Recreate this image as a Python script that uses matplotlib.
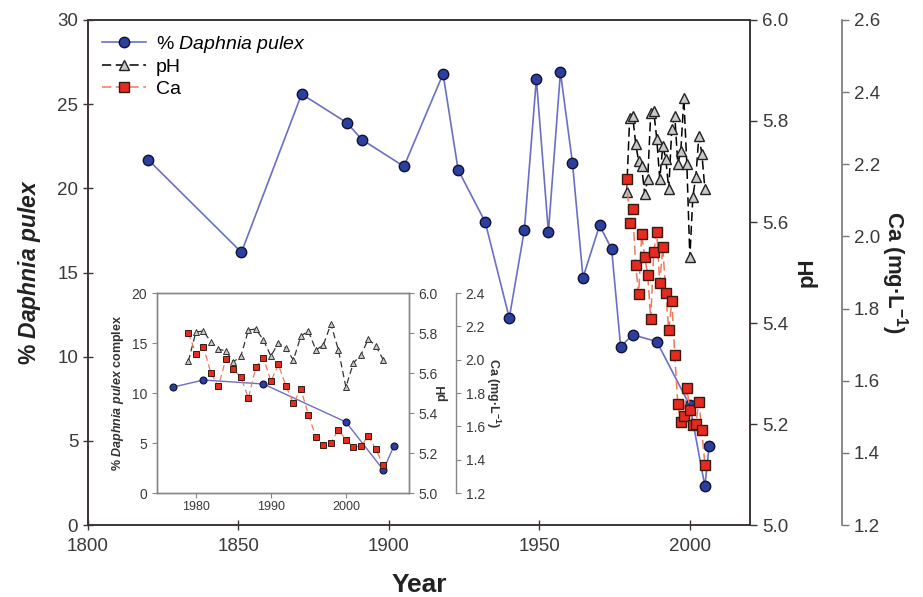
import matplotlib
matplotlib.use("Agg")
import matplotlib.pyplot as plt
from matplotlib.ticker import FormatStrFormatter

plt.rcParams.update({
    "font.family": ["Liberation Sans", "DejaVu Sans"],
    "mathtext.fontset": "custom",
    "mathtext.rm": "Liberation Sans",
    "mathtext.it": "Liberation Sans:italic",
    "mathtext.bf": "Liberation Sans:bold",
    "mathtext.bfit": "Liberation Sans:italic:bold",
})

# ---- % Daphnia pulex (sediment core, whole record) ----
daph_year = [1820, 1851, 1871, 1886, 1891, 1905, 1918, 1923, 1932, 1940, 1945,
             1949, 1953, 1957, 1961, 1964.5, 1970, 1974, 1977, 1981, 1989,
             2000, 2005, 2006.4]
daph_pct = [21.7, 16.2, 25.6, 23.9, 22.9, 21.3, 26.8, 21.1, 18.0, 12.3, 17.5,
            26.5, 17.4, 26.9, 21.5, 14.7, 17.8, 16.4, 10.6, 11.3, 10.9,
            7.1, 2.3, 4.7]

# ---- lake water chemistry (monitoring years) ----
chem_year = list(range(1979, 2006))
ph = [5.66, 5.805, 5.81, 5.755, 5.72, 5.71, 5.655, 5.685, 5.815, 5.82, 5.765,
      5.685, 5.75, 5.725, 5.665, 5.785, 5.81, 5.715, 5.74, 5.845, 5.715,
      5.53, 5.65, 5.69, 5.77, 5.735, 5.665]
ca = [2.16, 2.036, 2.076, 1.92, 1.84, 2.006, 1.942, 1.894, 1.77, 1.956, 2.012,
      1.87, 1.972, 1.842, 1.74, 1.822, 1.67, 1.536, 1.486, 1.502, 1.58,
      1.52, 1.476, 1.48, 1.542, 1.462, 1.366]

# inset only shows the monitoring period
ins_year = [y for y in daph_year if y >= 1975]
ins_pct = [v for y, v in zip(daph_year, daph_pct) if y >= 1975]

BLUE_LN, BLUE_MK = "#6b6fc4", "#2b3f9e"
RED_LN, RED_MK = "#f07a5c", "#e52a1f"
GREY_MK = "#c8c8c8"
SPINE = "#3d3535"
INS_SPINE = "#8a8585"
TXT = "#3a3a3a"

fig = plt.figure(figsize=(9.23, 5.97), dpi=100)
ax = fig.add_axes([0.0953, 0.1206, 0.7173, 0.8459])
axph = ax.twinx()
axca = ax.twinx()
axca.spines["right"].set_position(("outward", 66))

l1, = ax.plot(daph_year, daph_pct, "-o", color=BLUE_LN, lw=1.2, ms=7.5,
              mfc=BLUE_MK, mec="#111133", mew=1.0)
l2, = axph.plot(chem_year, ph, "--^", color="black", lw=1.1, ms=7.5,
                mfc=GREY_MK, mec="#222222", mew=1.0, dashes=(6, 3))
l3, = axca.plot(chem_year, ca, "--s", color=RED_LN, lw=1.1, ms=6.5,
                mfc=RED_MK, mec="#3a1a10", mew=1.0, dashes=(6, 3))

ax.set_xlim(1800, 2020)
ax.set_ylim(0, 30)
axph.set_ylim(5.0, 6.0)
axca.set_ylim(1.2, 2.6)
ax.set_xticks([1800, 1850, 1900, 1950, 2000])
ax.set_yticks(range(0, 31, 5))
axph.set_yticks([5.0, 5.2, 5.4, 5.6, 5.8, 6.0])
axca.set_yticks([1.2, 1.4, 1.6, 1.8, 2.0, 2.2, 2.4, 2.6])
axph.yaxis.set_major_formatter(FormatStrFormatter("%.1f"))
axca.yaxis.set_major_formatter(FormatStrFormatter("%.1f"))

for a in (ax, axph, axca):
    for sp in a.spines.values():
        sp.set_color(SPINE)
        sp.set_linewidth(1.2)
ax.tick_params(axis="both", direction="inout", length=7, width=1,
               color=SPINE, labelcolor=TXT, labelsize=13.5)
ax.tick_params(axis="x", pad=6)
axph.tick_params(axis="y", direction="out", length=5, width=1,
                 color=SPINE, labelcolor=TXT, labelsize=13.5)
axca.tick_params(axis="y", direction="out", length=5, width=1,
                 color="#777777", labelcolor=TXT, labelsize=13.5)
axca.spines["right"].set_color("#777777")
for sp in ("top", "left", "bottom"):
    axca.spines[sp].set_visible(False)

ax.set_xlabel("Year", fontsize=19, fontweight="bold", color="#222222", labelpad=13)
ax.set_ylabel(r"% $\mathbfit{Daphnia\ pulex}$", fontsize=16.5, fontweight="bold",
              color="#222222", labelpad=10)
axph.set_ylabel("pH", fontsize=16, fontweight="bold", color="#222222", labelpad=6)
axca.set_ylabel(r"Ca (mg·L$^{\mathbf{-1}}$)", fontsize=16, fontweight="bold",
                color="#222222", rotation=270, labelpad=22)

ax.legend([l1, l2, l3], [r"% $\mathit{Daphnia\ pulex}$", "pH", "Ca"],
          loc="upper left", frameon=False, fontsize=14, handlelength=2.3,
          handletextpad=0.5, labelspacing=0.2, borderaxespad=0.3,
          borderpad=0.4)

# ----- inset: monitoring period close-up -----
ins = fig.add_axes([0.170, 0.1742, 0.273, 0.335])
ins.set_facecolor("white")
insph = ins.twinx()
insca = ins.twinx()
insca.spines["right"].set_position(("axes", 1.187))

ins.plot(ins_year, ins_pct, "-o", color=BLUE_LN, lw=1.0, ms=5,
         mfc=BLUE_MK, mec="#111133", mew=0.8)
insph.plot(chem_year, ph, "--^", color="#333333", lw=0.9, ms=5,
           mfc=GREY_MK, mec="#333333", mew=0.7, dashes=(5, 3))
insca.plot(chem_year, ca, "--s", color=RED_LN, lw=0.9, ms=4.5,
           mfc=RED_MK, mec="#3a1a10", mew=0.7, dashes=(5, 3))

ins.set_xlim(1974.8, 2008.4)
ins.set_ylim(0, 20)
insph.set_ylim(5.0, 6.0)
insca.set_ylim(1.2, 2.4)
ins.set_xticks([1980, 1990, 2000])
ins.set_yticks([0, 5, 10, 15, 20])
insph.set_yticks([5.0, 5.2, 5.4, 5.6, 5.8, 6.0])
insca.set_yticks([1.2, 1.4, 1.6, 1.8, 2.0, 2.2, 2.4])
insph.yaxis.set_major_formatter(FormatStrFormatter("%.1f"))
insca.yaxis.set_major_formatter(FormatStrFormatter("%.1f"))

for a in (ins, insph, insca):
    for sp in a.spines.values():
        sp.set_color(INS_SPINE)
        sp.set_linewidth(1.0)
    a.tick_params(direction="out", length=3.5, width=0.8, color=INS_SPINE,
                  labelcolor=TXT, labelsize=10)
ins.tick_params(axis="x", labelsize=9, pad=2)
for sp in ("top", "left", "bottom"):
    insca.spines[sp].set_visible(False)

ins.set_ylabel(r"% $\mathbfit{Daphnia\ pulex}$ complex", fontsize=9,
               fontweight="bold", color="#333333", labelpad=4)
insph.set_ylabel("pH", fontsize=9, fontweight="bold", color="#333333", labelpad=-1)
insca.set_ylabel(r"Ca (mg·L$^{\mathbf{-1}}$)", fontsize=9, fontweight="bold",
                 color="#333333", rotation=270, labelpad=12)

fig.savefig("out.png", dpi=100, facecolor="white")
